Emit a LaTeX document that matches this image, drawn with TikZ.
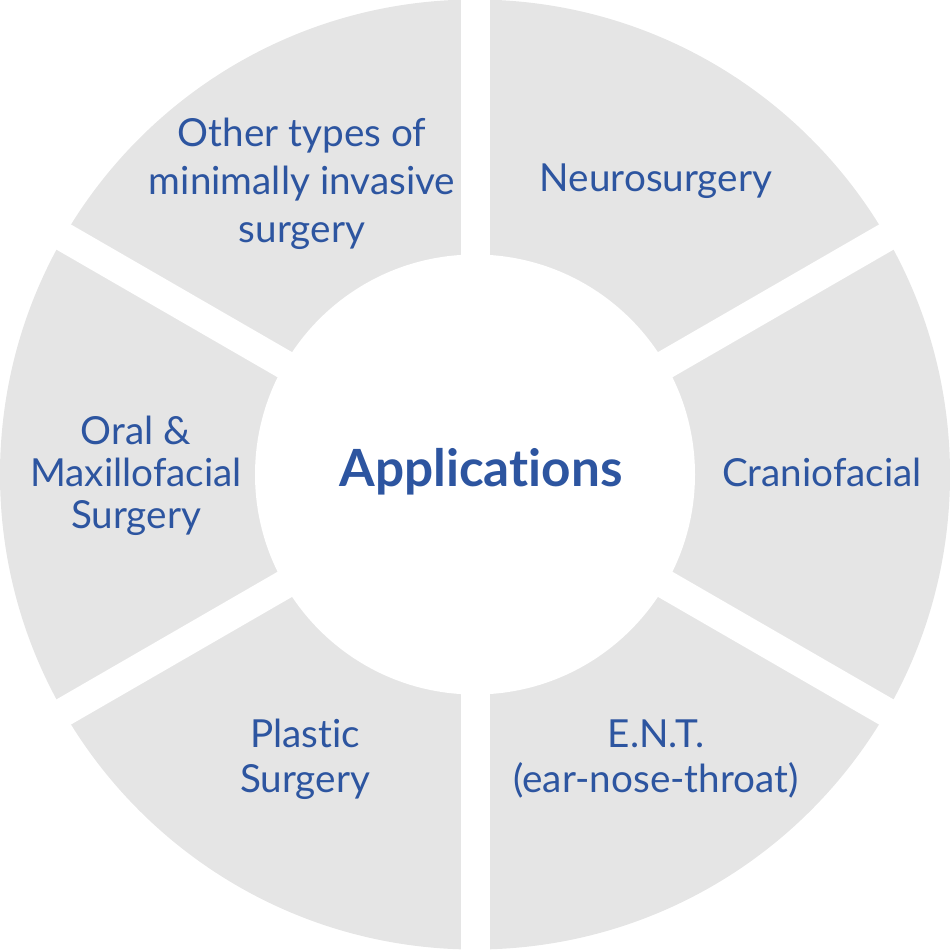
\documentclass[tikz,border=0pt]{standalone}
\usepackage{fontspec}
\setmainfont{Lato}[Ligatures={NoCommon}]
\usetikzlibrary{calc}
\definecolor{seggray}{HTML}{E5E5E5}
\definecolor{txtblue}{HTML}{2D55A0}
\begin{document}
\begin{tikzpicture}[
  lbl/.style={text=txtblue, font=\fontsize{11}{13.6}\selectfont, align=center, inner sep=0pt},
  ttl/.style={text=txtblue, font=\fontsize{14.6}{17}\selectfont\bfseries, inner sep=0pt}
]
\useasboundingbox (0,0) rectangle (9.5,-9.49);
\coordinate (c) at (4.75,-4.745);
\fill[seggray] (c) circle (4.75);
\foreach \a in {90,30,150} {
  \fill[white, rotate around={\a:(c)}] ($(c)+(-4.9,-0.145)$) rectangle ($(c)+(4.9,0.145)$);
}
\fill[white] (c) circle (2.2);
\node[ttl] (title) at (4.81,-4.72) {Applications};
\node[lbl] (other) at (3.02,-1.84) {Other types of\\minimally invasive\\surgery};
\node[lbl] (neuro) at (6.56,-1.81) {Neurosurgery};
\node[lbl] (cranio) at (8.22,-4.72) {Craniofacial};
\node[lbl, font=\fontsize{11}{12.8}\selectfont] (ent) at (6.56,-7.59) {E.N.T.\\(ear-nose-throat)};
\node[lbl, font=\fontsize{11}{12.8}\selectfont] (plastic) at (3.05,-7.59) {Plastic\\Surgery};
\node[lbl, font=\fontsize{11}{12}\selectfont] (oral) at (1.36,-4.76) {Oral \&\\Maxillofacial\\Surgery};
\end{tikzpicture}
\end{document}
